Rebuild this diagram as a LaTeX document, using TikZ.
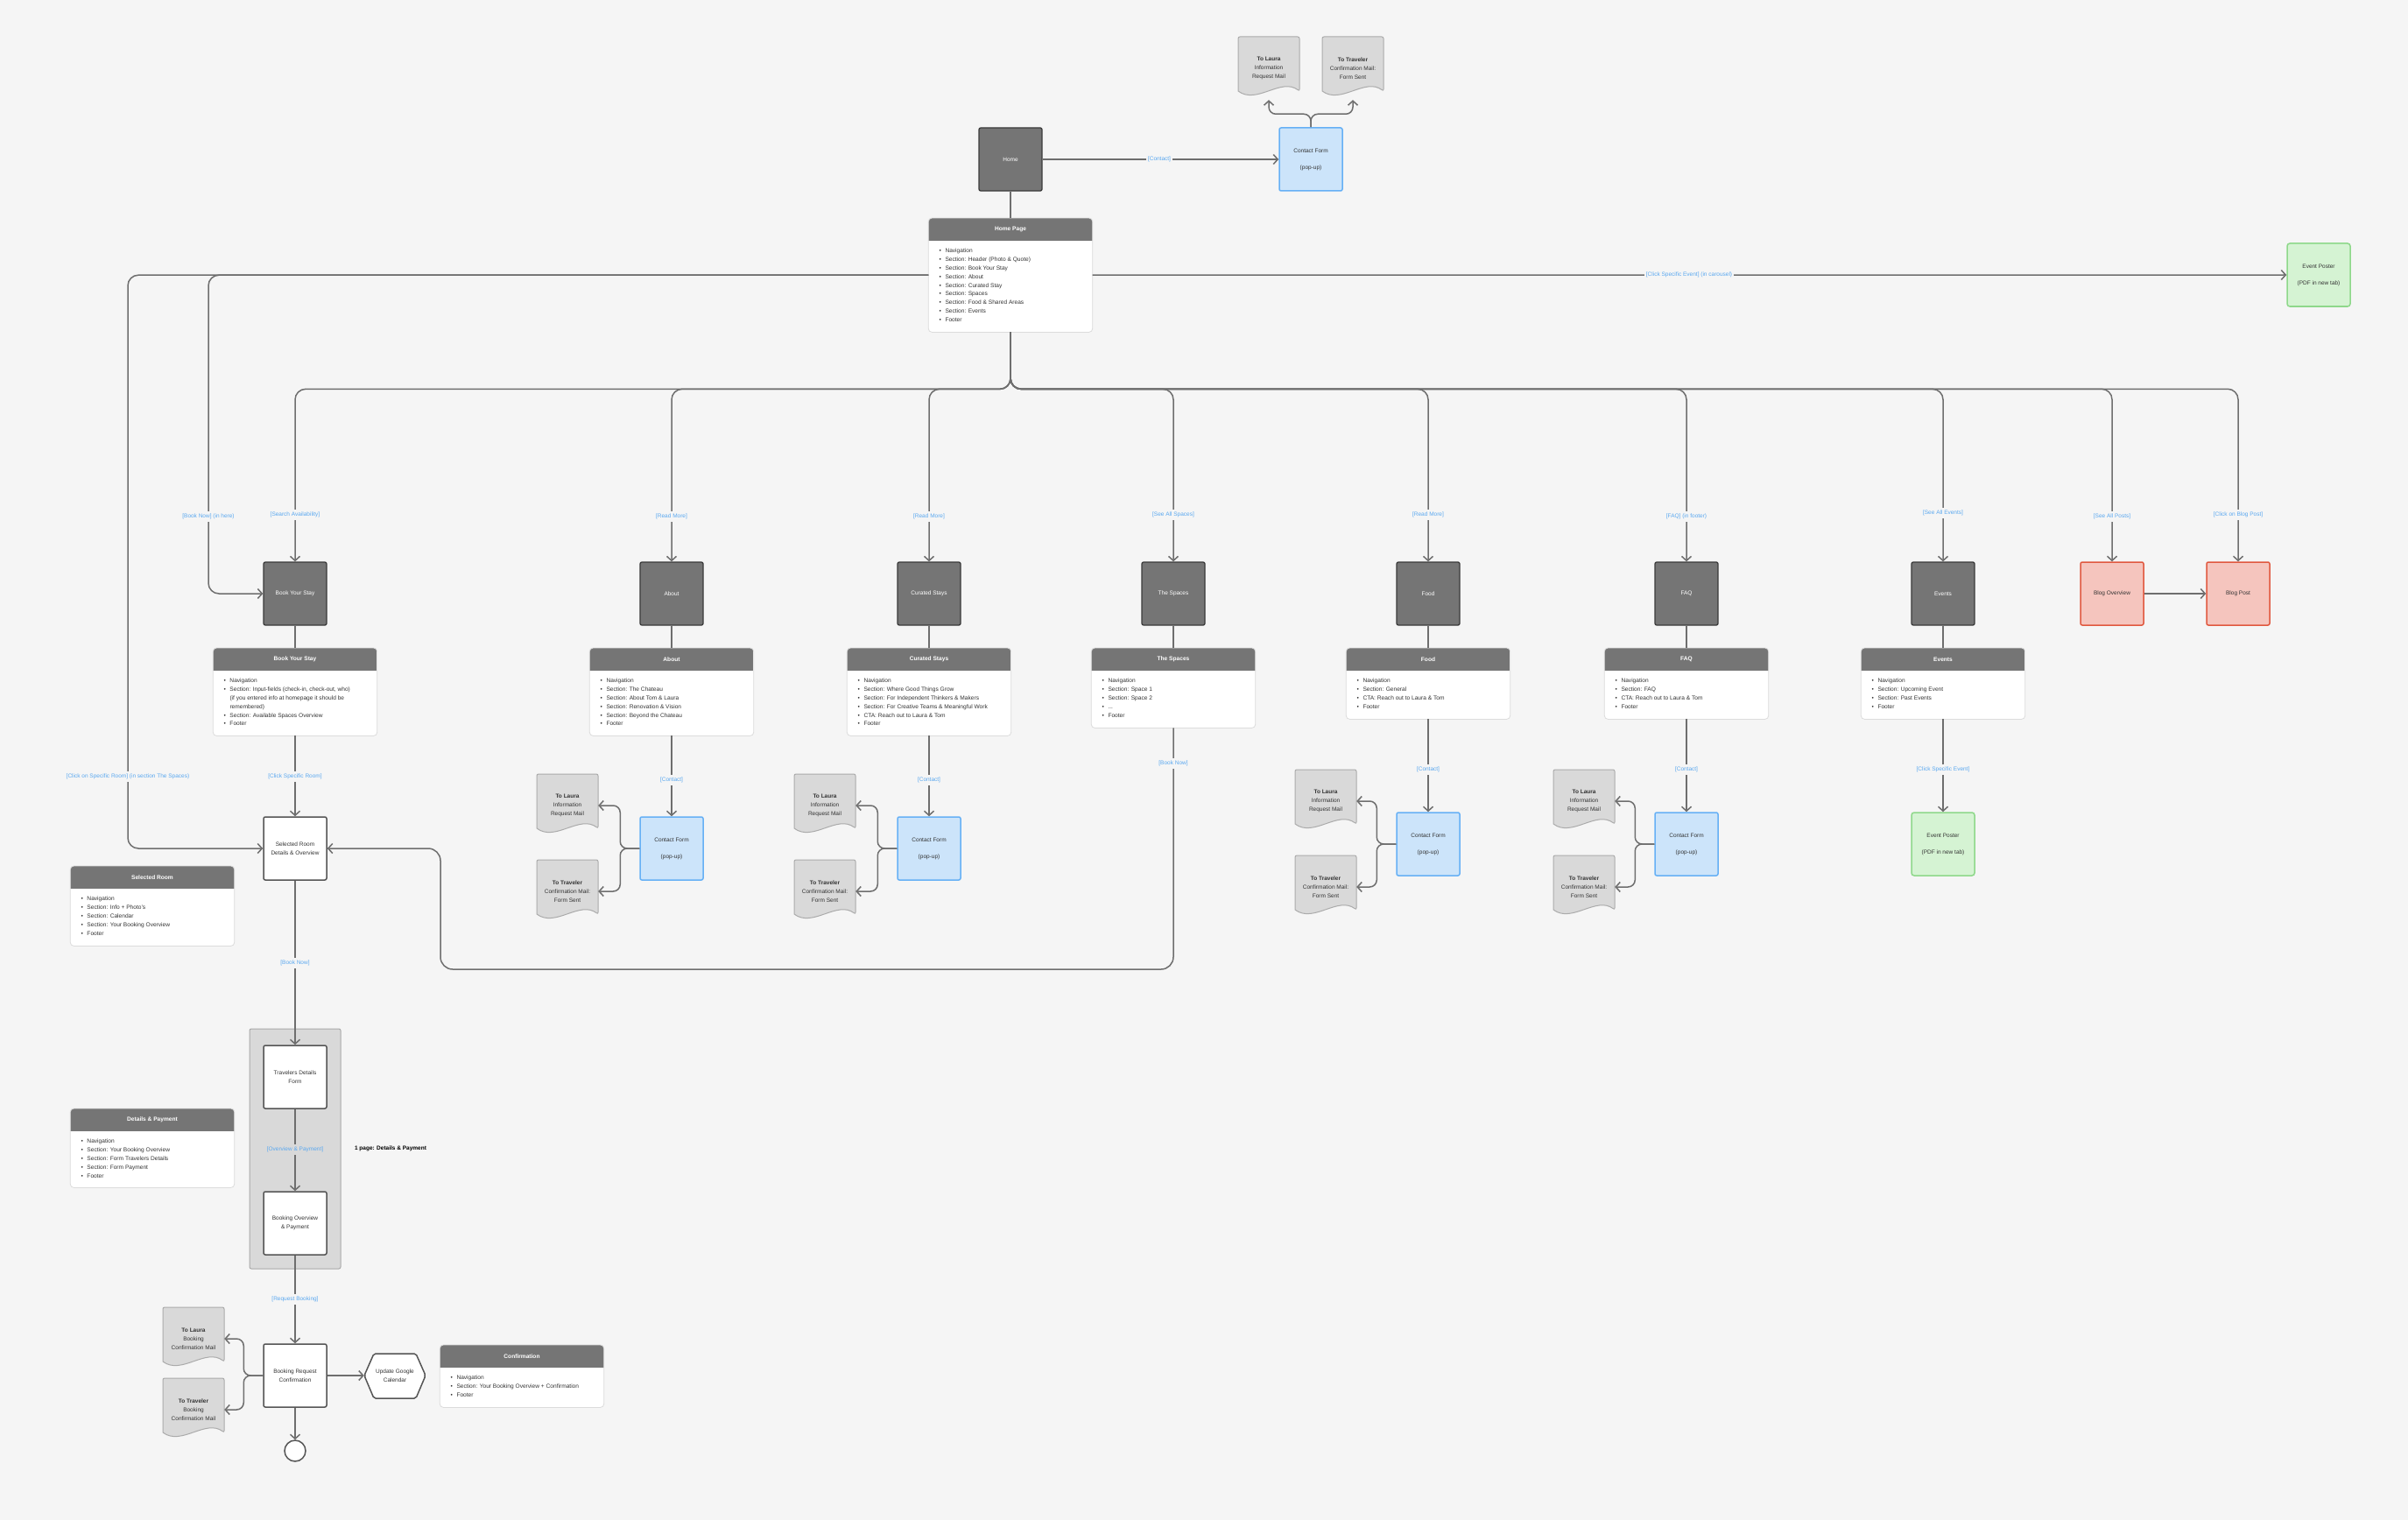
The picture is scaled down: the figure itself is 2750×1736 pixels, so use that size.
\documentclass[tikz,border=0pt]{standalone}
\usepackage{fontspec}
\setmainfont{Liberation Sans}
\usetikzlibrary{arrows.meta,calc}
\definecolor{bg}{HTML}{F5F5F5}
\definecolor{linec}{HTML}{6E6E6E}
\definecolor{lblc}{HTML}{5AA8F0}
\definecolor{pgfill}{HTML}{757575}
\definecolor{pgborder}{HTML}{3A3A3A}
\definecolor{hdrc}{HTML}{757575}
\definecolor{formfill}{HTML}{CCE4FA}
\definecolor{formborder}{HTML}{66B0F5}
\definecolor{postfill}{HTML}{D5F3D3}
\definecolor{postborder}{HTML}{8ED88A}
\definecolor{blogfill}{HTML}{F5C5BE}
\definecolor{blogborder}{HTML}{E0583F}
\definecolor{docfill}{HTML}{D9D9D9}
\definecolor{docborder}{HTML}{ABABAB}
\definecolor{grpfill}{HTML}{D9D9D9}
\definecolor{grpborder}{HTML}{A9A9A9}
\definecolor{textc}{HTML}{333333}
\definecolor{wborder}{HTML}{555555}
\definecolor{cardborder}{HTML}{DCDCDC}
\newcommand\fsz[2]{\fontsize{#1}{#2}\selectfont}
\newcommand\bulx{\makebox[7pt][l]{\textbullet}}
\newcommand\indx{\hspace*{7pt}}
\newcommand\mkcard[6]{%
 \node[minimum width=187pt, minimum height=#4pt, inner sep=0pt, anchor=north] (#1) at (#2,#3) {};
 \fill[white, rounded corners=4pt] (#1.south west) rectangle (#1.north east);
 \begin{scope}
  \clip[rounded corners=4pt] (#1.south west) rectangle (#1.north east);
  \fill[hdrc] (#1.north west) rectangle ($(#1.north east)+(0,26)$);
 \end{scope}
 \draw[cardline, rounded corners=4pt] (#1.south west) rectangle (#1.north east);
 \node[hdrtext] at ($(#1.north)+(0,13)$) {#5};
 \node[cardtext, anchor=north west] at ($(#1.north west)+(12,35)$) {#6};
}
\newcommand\mkdoc[4]{%
 \filldraw[docshape] (#2-35,#3+20) [rounded corners=2pt] -- (#2-35,#3-36) -- (#2+35,#3-36) -- (#2+35,#3+26) [sharp corners] .. controls (#2+14,#3+10) and (#2-14,#3+42) .. (#2-35,#3+26) -- cycle;
 \node[docnode] (#1) at (#2,#3) {#4};
}
\begin{document}
\begin{tikzpicture}[x=1pt,y=-1pt,
 conn/.style={draw=linec, line width=1.5pt},
 arr/.style={conn, -{Straight Barb[length=5pt,width=11pt]}},
 lbl/.style={fill=bg, text=lblc, font=\fsz{6.5}{7.5}, inner xsep=2pt, inner ysep=3pt},
 pagebox/.style={draw=pgborder, fill=pgfill, line width=1.3pt, rounded corners=2pt, minimum width=72pt, minimum height=72pt, text=white, font=\fsz{6.5}{8}, inner sep=0pt, align=center},
 whitebox/.style={draw=wborder, fill=white, line width=1.5pt, rounded corners=2pt, minimum width=72pt, minimum height=72pt, text=textc, font=\fsz{6.5}{9.5}, inner sep=0pt, align=center},
 formbox/.style={draw=formborder, fill=formfill, line width=1.5pt, rounded corners=2pt, minimum width=72pt, minimum height=72pt, text=textc, font=\fsz{6.5}{9}, inner sep=0pt, align=center},
 postbox/.style={draw=postborder, fill=postfill, line width=1.5pt, rounded corners=3pt, minimum width=72pt, minimum height=72pt, text=textc, font=\fsz{6.5}{9}, inner sep=0pt, align=center},
 blogbox/.style={draw=blogborder, fill=blogfill, line width=1.5pt, rounded corners=2pt, minimum width=72pt, minimum height=72pt, text=textc, font=\fsz{6.5}{9}, inner sep=0pt, align=center},
 docshape/.style={draw=docborder, fill=docfill, line width=1pt},
 docnode/.style={minimum width=70pt, minimum height=64pt, inner sep=0pt, align=center, text=textc, font=\fsz{6.5}{10}},
 cardline/.style={draw=cardborder, line width=0.8pt},
 hdrtext/.style={text=white, font=\fsz{6.6}{8}\bfseries},
 cardtext/.style={text=textc, font=\fsz{6.6}{9.8}, align=left, inner sep=0pt},
]
\path[use as bounding box, fill=bg] (0,0) rectangle (2750,1736);
% group rectangle
\filldraw[fill=grpfill, draw=grpborder, line width=1pt, rounded corners=2pt] (285,1175) rectangle (389,1449);

% ---------- nodes ----------
\node[pagebox] (home) at (1154,182) {Home};
\node[formbox] (cf0) at (1497,182) {Contact Form\\[10pt](pop-up)};
\mkdoc{d0a}{1449}{78}{\textbf{To Laura}\\Information\\Request Mail}
\mkdoc{d0b}{1545}{78}{\textbf{To Traveler}\\Confirmation Mail:\\Form Sent}

\mkcard{hp}{1154}{249}{130}{Home Page}{\bulx Navigation\\\bulx Section: Header (Photo \& Quote)\\\bulx Section: Book Your Stay\\\bulx Section: About\\\bulx Section: Curated Stay\\\bulx Section: Spaces\\\bulx Section: Food \& Shared Areas\\\bulx Section: Events\\\bulx Footer}
\node[postbox] (ep0) at (2648,314) {Event Poster\\[10pt](PDF in new tab)};

\node[pagebox] (book) at (337,678) {Book Your Stay};
\node[pagebox] (about) at (767,678) {About};
\node[pagebox] (cur) at (1061,678) {Curated Stays};
\node[pagebox] (spa) at (1340,678) {The Spaces};
\node[pagebox] (food) at (1631,678) {Food};
\node[pagebox] (faq) at (1926,678) {FAQ};
\node[pagebox] (ev) at (2219,678) {Events};
\node[blogbox] (blogo) at (2412,678) {Blog Overview};
\node[blogbox] (blogp) at (2556,678) {Blog Post};

\mkcard{cBook}{337}{740}{100}{Book Your Stay}{\bulx Navigation\\\bulx Section: Input-fields (check-in, check-out, who)\\\indx(if you entered info at homepage it should be\\\indx remembered)\\\bulx Section: Available Spaces Overview\\\bulx Footer}
\mkcard{cAbout}{767}{740}{100}{About}{\bulx Navigation\\\bulx Section: The Chateau\\\bulx Section: About Tom \& Laura\\\bulx Section: Renovation \& Vision\\\bulx Section: Beyond the Chateau\\\bulx Footer}
\mkcard{cCur}{1061}{740}{100}{Curated Stays}{\bulx Navigation\\\bulx Section: Where Good Things Grow\\\bulx Section: For Independent Thinkers \& Makers\\\bulx Section: For Creative Teams \& Meaningful Work\\\bulx CTA: Reach out to Laura \& Tom\\\bulx Footer}
\mkcard{cSpa}{1340}{740}{91}{The Spaces}{\bulx Navigation\\\bulx Section: Space 1\\\bulx Section: Space 2\\\bulx ...\\\bulx Footer}
\mkcard{cFood}{1631}{740}{81}{Food}{\bulx Navigation\\\bulx Section: General\\\bulx CTA: Reach out to Laura \& Tom\\\bulx Footer}
\mkcard{cFaq}{1926}{740}{81}{FAQ}{\bulx Navigation\\\bulx Section: FAQ\\\bulx CTA: Reach out to Laura \& Tom\\\bulx Footer}
\mkcard{cEv}{2219}{740}{81}{Events}{\bulx Navigation\\\bulx Section: Upcoming Event\\\bulx Section: Past Events\\\bulx Footer}

\node[formbox] (cfA) at (767,969) {Contact Form\\[10pt](pop-up)};
\node[formbox] (cfC) at (1061,969) {Contact Form\\[10pt](pop-up)};
\node[formbox] (cfF) at (1631,964) {Contact Form\\[10pt](pop-up)};
\node[formbox] (cfQ) at (1926,964) {Contact Form\\[10pt](pop-up)};
\node[postbox] (ev2) at (2219,964) {Event Poster\\[10pt](PDF in new tab)};

\mkdoc{dAa}{648}{920}{\textbf{To Laura}\\Information\\Request Mail}
\mkdoc{dAb}{648}{1018}{\textbf{To Traveler}\\Confirmation Mail:\\Form Sent}
\mkdoc{dCa}{942}{920}{\textbf{To Laura}\\Information\\Request Mail}
\mkdoc{dCb}{942}{1018}{\textbf{To Traveler}\\Confirmation Mail:\\Form Sent}
\mkdoc{dFa}{1514}{915}{\textbf{To Laura}\\Information\\Request Mail}
\mkdoc{dFb}{1514}{1013}{\textbf{To Traveler}\\Confirmation Mail:\\Form Sent}
\mkdoc{dQa}{1809}{915}{\textbf{To Laura}\\Information\\Request Mail}
\mkdoc{dQb}{1809}{1013}{\textbf{To Traveler}\\Confirmation Mail:\\Form Sent}

\node[whitebox] (selroom) at (337,969) {Selected Room\\Details \& Overview};
\mkcard{cSel}{174}{989}{91}{Selected Room}{\bulx Navigation\\\bulx Section: Info + Photo's\\\bulx Section: Calendar\\\bulx Section: Your Booking Overview\\\bulx Footer}

\node[whitebox] (trav) at (337,1230) {Travelers Details\\Form};
\node[whitebox] (bov) at (337,1397) {Booking Overview\\\& Payment};
\mkcard{cDet}{174}{1266}{90}{Details \& Payment}{\bulx Navigation\\\bulx Section: Your Booking Overview\\\bulx Section: Form Travelers Details\\\bulx Section: Form Payment\\\bulx Footer}
\node[text=black, font=\fsz{6.5}{8}\bfseries] (grpttl) at (446,1312) {1 page: Details \& Payment};

\node[whitebox] (brc) at (337,1571) {Booking Request\\Confirmation};
\filldraw[draw=wborder, fill=white, line width=1.5pt, rounded corners=2pt] (416,1571) -- (427,1546) -- (475,1546) -- (486,1571) -- (475,1597) -- (427,1597) -- cycle;
\node[minimum width=70pt, minimum height=51pt, inner sep=0pt, align=center, text=textc, font=\fsz{6.5}{9.5}] (gcal) at (451,1571) {Update Google\\Calendar};
\mkdoc{dBa}{221}{1529}{\textbf{To Laura}\\Booking\\Confirmation Mail}
\mkdoc{dBb}{221}{1610}{\textbf{To Traveler}\\Booking\\Confirmation Mail}
\node[draw=wborder, fill=white, circle, minimum size=24pt, line width=1.5pt, inner sep=0pt] (endc) at (337,1657) {};
\mkcard{cConf}{596}{1536}{71}{Confirmation}{\bulx Navigation\\\bulx Section: Your Booking Overview + Confirmation\\\bulx Footer}

% ---------- connectors ----------
\draw[arr] (home.east) -- (cf0.west);
\draw[arr, rounded corners=8pt] (cf0.north) -- ++(0,-15) -| ($(d0a.south)+(0,4)$);
\draw[arr, rounded corners=8pt] (cf0.north) -- ++(0,-15) -| ($(d0b.south)+(0,4)$);
\draw[conn] (home.south) -- (hp.north);
\draw[arr] (hp.east) -- (ep0.west);
\draw[arr, rounded corners=12pt] (hp.west) -| (146,969) -- (selroom.west);
\draw[arr, rounded corners=12pt] (hp.west) -| (238,678) -- (book.west);
\foreach \c in {book,about,cur,spa,food,faq,ev,blogo,blogp}{
  \draw[arr, rounded corners=12pt] (hp.south) |- ($(\c.north)+(0,-197)$) -- (\c.north);
}
\draw[arr] (blogo.east) -- (blogp.west);
\foreach \p/\c in {book/cBook,about/cAbout,cur/cCur,spa/cSpa,food/cFood,faq/cFaq,ev/cEv}{
  \draw[conn] (\p.south) -- (\c.north);
}
\draw[arr] (cBook.south) -- (selroom.north);
\draw[arr] (cAbout.south) -- (cfA.north);
\draw[arr] (cCur.south) -- (cfC.north);
\draw[arr, rounded corners=14pt] (cSpa.south) |- (503,1107) |- (selroom.east);
\draw[arr] (cFood.south) -- (cfF.north);
\draw[arr] (cFaq.south) -- (cfQ.north);
\draw[arr] (cEv.south) -- (ev2.north);
\foreach \f/\a/\b in {cfA/dAa/dAb,cfC/dCa/dCb,cfF/dFa/dFb,cfQ/dQa/dQb,brc/dBa/dBb}{
  \draw[arr, rounded corners=8pt] (\f.west) -- ++(-22,0) |- (\a.east);
  \draw[arr, rounded corners=8pt] (\f.west) -- ++(-22,0) |- (\b.east);
}
\draw[arr] (selroom.south) -- (trav.north);
\draw[arr] (trav.south) -- (bov.north);
\draw[arr] (bov.south) -- (brc.north);
\draw[arr] (brc.east) -- (gcal.west);
\draw[arr] (brc.south) -- (endc.north);

% ---------- labels ----------
\node[lbl] (l1) at (1324,182) {[Contact]};
\node[lbl] (l2) at (1929,314) {[Click Specific Event] (in carousel)};
\node[lbl] (l3) at (238,590) {[Book Now] (in here)};
\node[lbl] (l4) at (146,887) {[Click on Specific Room] (in section The Spaces)};
\node[lbl] (l5) at (337,588) {[Search Availability]};
\node[lbl] (l6) at (767,590) {[Read More]};
\node[lbl] (l7) at (1061,590) {[Read More]};
\node[lbl] (l8) at (1340,588) {[See All Spaces]};
\node[lbl] (l9) at (1631,588) {[Read More]};
\node[lbl] (l10) at (1926,590) {[FAQ] (in footer)};
\node[lbl] (l11) at (2219,586) {[See All Events]};
\node[lbl] (l12) at (2412,590) {[See All Posts]};
\node[lbl] (l13) at (2556,588) {[Click on Blog Post]};
\node[lbl] (l14) at (337,887) {[Click Specific Room]};
\node[lbl] (l15) at (767,891) {[Contact]};
\node[lbl] (l16) at (1061,891) {[Contact]};
\node[lbl] (l17) at (1340,872) {[Book Now]};
\node[lbl] (l18) at (1631,879) {[Contact]};
\node[lbl] (l19) at (1926,879) {[Contact]};
\node[lbl] (l20) at (2219,879) {[Click Specific Event]};
\node[lbl] (l21) at (337,1100) {[Book Now]};
\node[lbl, fill=grpfill] (l22) at (337,1313) {[Overview \& Payment]};
\node[lbl] (l23) at (337,1484) {[Request Booking]};
\end{tikzpicture}
\end{document}
